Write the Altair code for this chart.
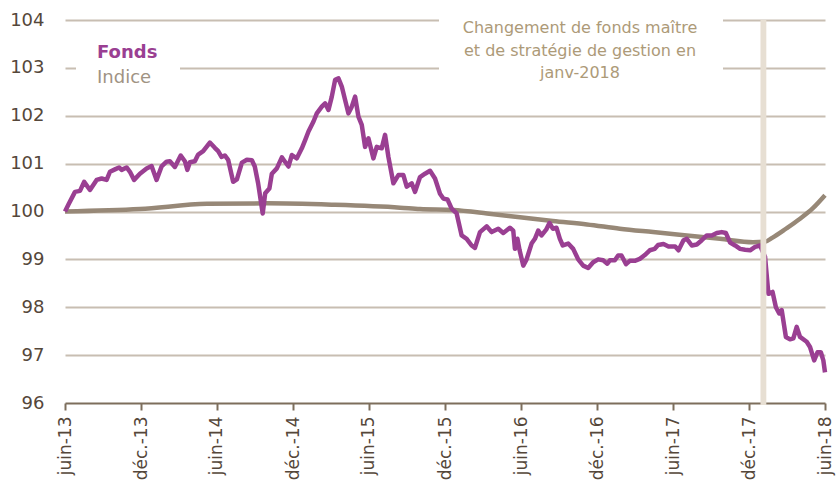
import altair as alt
import pandas as pd

# Weekly values of the fund (base 100 in June 2013)
FONDS_DATES = [
    "2013-06-01", "2013-06-09", "2013-06-25", "2013-07-07", "2013-07-17", "2013-07-31",
    "2013-08-16", "2013-08-28", "2013-09-09", "2013-09-17", "2013-09-29", "2013-10-09",
    "2013-10-15", "2013-10-27", "2013-11-04", "2013-11-14", "2013-11-28", "2013-12-14",
    "2013-12-26",
    "2014-01-07", "2014-01-19", "2014-01-31", "2014-02-08", "2014-02-20", "2014-03-06",
    "2014-03-16", "2014-03-22", "2014-03-28", "2014-04-09", "2014-04-17", "2014-04-29",
    "2014-05-15", "2014-05-27", "2014-06-04", "2014-06-12", "2014-06-20", "2014-06-28",
    "2014-07-10", "2014-07-19", "2014-07-31", "2014-08-12", "2014-08-24", "2014-08-31",
    "2014-09-08", "2014-09-19", "2014-09-25", "2014-10-05", "2014-10-11", "2014-10-23",
    "2014-11-04", "2014-11-09", "2014-11-20", "2014-11-28", "2014-12-10", "2014-12-22",
    "2014-12-30",
    "2015-01-07", "2015-01-19", "2015-01-27", "2015-02-08", "2015-02-16", "2015-02-24",
    "2015-03-04", "2015-03-12", "2015-03-20", "2015-03-28", "2015-04-05", "2015-04-13",
    "2015-04-21", "2015-04-29", "2015-05-07", "2015-05-15", "2015-05-23", "2015-05-31",
    "2015-06-12", "2015-06-20", "2015-07-02", "2015-07-10", "2015-07-18", "2015-07-30",
    "2015-08-11", "2015-08-23", "2015-08-31", "2015-09-12", "2015-09-20", "2015-10-02",
    "2015-10-14", "2015-10-26", "2015-11-07", "2015-11-19", "2015-11-27", "2015-12-07",
    "2015-12-17", "2015-12-29",
    "2016-01-10", "2016-01-22", "2016-02-03", "2016-02-11", "2016-02-23", "2016-03-10",
    "2016-03-22", "2016-04-07", "2016-04-19", "2016-05-05", "2016-05-13", "2016-05-17",
    "2016-05-23", "2016-05-28", "2016-06-06", "2016-06-14", "2016-06-26", "2016-07-04",
    "2016-07-12", "2016-07-20", "2016-07-31", "2016-08-08", "2016-08-16", "2016-08-25",
    "2016-09-02", "2016-09-09", "2016-09-22", "2016-10-04", "2016-10-16", "2016-10-28",
    "2016-11-09", "2016-11-21", "2016-12-03", "2016-12-15", "2016-12-25", "2016-12-31",
    "2017-01-12", "2017-01-20", "2017-01-28", "2017-02-08", "2017-02-17", "2017-03-01",
    "2017-03-13", "2017-03-25", "2017-04-06", "2017-04-18", "2017-04-26", "2017-05-09",
    "2017-05-21", "2017-06-06", "2017-06-14", "2017-06-26", "2017-07-04", "2017-07-16",
    "2017-07-28", "2017-08-09", "2017-08-21", "2017-09-02", "2017-09-14", "2017-09-26",
    "2017-10-06", "2017-10-16", "2017-10-28", "2017-11-09", "2017-11-21", "2017-12-03",
    "2017-12-15", "2017-12-27",
    "2018-01-08", "2018-01-16", "2018-01-26", "2018-02-03", "2018-02-11", "2018-02-17",
    "2018-02-27", "2018-03-09", "2018-03-17", "2018-03-25", "2018-04-02", "2018-04-18",
    "2018-04-26", "2018-05-06", "2018-05-14", "2018-05-22", "2018-05-28", "2018-06-01",
]
FONDS_VALUES = [
    100.00, 100.14, 100.41, 100.43, 100.62, 100.45, 100.66, 100.69, 100.66, 100.83,
    100.88, 100.92, 100.87, 100.92, 100.83, 100.66, 100.79, 100.90, 100.95,
    100.66, 100.94, 101.04, 101.05, 100.93, 101.17, 101.05, 100.87, 101.03, 101.05,
    101.19, 101.26, 101.44, 101.33, 101.26, 101.14, 101.17, 101.08, 100.62, 100.67,
    101.02, 101.08, 101.07, 100.94, 100.59, 99.96, 100.38, 100.48, 100.79, 100.90,
    101.13, 101.07, 100.94, 101.18, 101.11, 101.32, 101.49,
    101.67, 101.88, 102.05, 102.19, 102.26, 102.12, 102.40, 102.75, 102.78, 102.61,
    102.33, 102.05, 102.19, 102.40, 101.98, 101.81, 101.35, 101.53, 101.11, 101.35,
    101.32, 101.60, 101.14, 100.59, 100.76, 100.76, 100.52, 100.59, 100.41, 100.72,
    100.79, 100.85, 100.69, 100.37, 100.27, 100.25, 100.06, 99.96,
    99.50, 99.43, 99.29, 99.24, 99.57, 99.69, 99.57, 99.64, 99.55, 99.66,
    99.60, 99.22, 99.43, 99.20, 98.87, 99.00, 99.33, 99.43, 99.60, 99.50,
    99.62, 99.76, 99.64, 99.66, 99.43, 99.29, 99.33, 99.22, 99.00, 98.87,
    98.82, 98.94, 99.00, 98.98, 98.91, 98.98,
    98.98, 99.08, 99.08, 98.90, 98.97, 98.97, 99.01, 99.09, 99.19, 99.22,
    99.30, 99.32, 99.27, 99.27, 99.19, 99.40, 99.43, 99.29, 99.31, 99.40,
    99.50, 99.50, 99.55, 99.57, 99.55, 99.35, 99.29, 99.22, 99.20, 99.19,
    99.26, 99.29,
    99.05, 98.28, 98.32, 98.00, 97.87, 97.94, 97.38, 97.33, 97.35, 97.59,
    97.38, 97.28, 97.17, 96.89, 97.06, 97.06, 96.89, 96.64,
]

# Benchmark index
INDICE_DATES = [
    "2013-06-01", "2013-11-28", "2014-05-08", "2014-09-29", "2015-03-07", "2015-08-15",
    "2015-10-02", "2015-12-20", "2016-03-11", "2016-05-29", "2016-08-16", "2016-11-06",
    "2017-01-24", "2017-04-14", "2017-07-04", "2017-09-22", "2017-12-10", "2018-01-08",
    "2018-01-25", "2018-02-27", "2018-04-02", "2018-05-03", "2018-06-01",
]
INDICE_VALUES = [
    100.00, 100.05, 100.16, 100.17, 100.14, 100.08,
    100.05, 100.03, 99.96, 99.88, 99.80, 99.73,
    99.64, 99.57, 99.50, 99.43, 99.36, 99.37,
    99.45, 99.64, 99.85, 100.07, 100.34,
]

TICK_DATES = [
    "2013-06-01", "2013-12-01", "2014-06-01", "2014-12-01", "2015-06-01", "2015-12-01",
    "2016-06-01", "2016-12-01", "2017-06-01", "2017-12-01", "2018-06-01",
]
TICK_LABELS = [
    "juin-13", "déc.-13", "juin-14", "déc.-14", "juin-15", "déc.-15",
    "juin-16", "déc.-16", "juin-17", "déc.-17", "juin-18",
]
Y_TICKS = [96, 97, 98, 99, 100, 101, 102, 103, 104]

# Change of master fund / management strategy
EVENT_START = ["2017-12-28"]
EVENT_END = ["2018-01-11"]
NOTE_LINES = ["Changement de fonds maître", "et de stratégie de gestion en", "janv-2018"]
LEGEND_NAMES = ["Fonds", "Indice"]

assert len(FONDS_DATES) == len(FONDS_VALUES)
assert len(INDICE_DATES) == len(INDICE_VALUES)

FONT = "DejaVu Sans"
FONDS_COLOR = "#9a3f92"
INDICE_COLOR = "#978877"
INDICE_TEXT = "#a09383"
GRID_COLOR = "#c8beb2"
AXIS_COLOR = "#7d6e5c"
LABEL_COLOR = "#55473a"
NOTE_COLOR = "#ad9a78"
BAND_COLOR = "#e7dfd3"

W, H = 760, 383

fonds = pd.DataFrame({"date": FONDS_DATES, "valeur": FONDS_VALUES})
indice = pd.DataFrame({"date": INDICE_DATES, "valeur": INDICE_VALUES})
event = pd.DataFrame({"debut": EVENT_START, "fin": EVENT_END})


def utc_dt(s):
    y, m, d = (int(p) for p in s.split("-"))
    return alt.DateTime(year=y, month=m, date=d, utc=True)


x_scale = alt.Scale(type="utc", domain=[utc_dt(TICK_DATES[0]), utc_dt(TICK_DATES[-1])])
y_scale = alt.Scale(domain=[Y_TICKS[0], Y_TICKS[-1]], nice=False, zero=False)

label_expr = "''"
for d, lab in reversed(list(zip(TICK_DATES, TICK_LABELS))):
    label_expr = f"utcFormat(datum.value, '%Y-%m') === '{d[:7]}' ? '{lab}' : ({label_expr})"

x_axis = alt.Axis(
    values=[utc_dt(d) for d in TICK_DATES],
    labelExpr=label_expr,
    labelAngle=270,
    labelOverlap=False,
    labelFlush=False,
    labelPadding=6,
    labelFontSize=17,
    tickSize=7,
    tickWidth=2,
    tickColor=AXIS_COLOR,
    domainColor=AXIS_COLOR,
    domainWidth=2,
    grid=False,
    title=None,
)
y_axis = alt.Axis(
    values=Y_TICKS,
    grid=True,
    gridColor=GRID_COLOR,
    gridWidth=2,
    gridOpacity=alt.condition(f"datum.value === {Y_TICKS[0]}", alt.value(0), alt.value(1)),
    domain=False,
    ticks=False,
    labelPadding=21,
    labelFontSize=18,
    title=None,
)

indice_line = alt.Chart(indice).mark_line(
    color=INDICE_COLOR, strokeWidth=4.5, interpolate="monotone"
).encode(
    x=alt.X("date:T", scale=x_scale, axis=x_axis),
    y=alt.Y("valeur:Q", scale=y_scale, axis=y_axis),
)

fonds_line = alt.Chart(fonds).mark_line(
    color=FONDS_COLOR, strokeWidth=4.5, strokeJoin="round"
).encode(
    x=alt.X("date:T", scale=x_scale),
    y=alt.Y("valeur:Q", scale=y_scale),
)

band = alt.Chart(event).mark_rect(color=BAND_COLOR).encode(
    x=alt.X("debut:T", scale=x_scale),
    x2="fin:T",
    y=alt.value(0),
    y2=alt.value(H + 2),
)

# Legend block
legend_bg = alt.Chart(pd.DataFrame({"k": [0]})).mark_rect(color="white").encode(
    x=alt.value(11), x2=alt.value(115), y=alt.value(14), y2=alt.value(70)
)
legend_fonds = alt.Chart(pd.DataFrame({"t": [LEGEND_NAMES[0]]})).mark_text(
    font=FONT, fontSize=18, fontWeight="bold", color=FONDS_COLOR, align="left", baseline="alphabetic"
).encode(text="t:N", x=alt.value(32), y=alt.value(38))
legend_indice = alt.Chart(pd.DataFrame({"t": [LEGEND_NAMES[1]]})).mark_text(
    font=FONT, fontSize=18, color=INDICE_TEXT, align="left", baseline="alphabetic"
).encode(text="t:N", x=alt.value(32), y=alt.value(63))

# Annotation about the strategy change
note_bg = alt.Chart(pd.DataFrame({"k": [0]})).mark_rect(color="white").encode(
    x=alt.value(374), x2=alt.value(658), y=alt.value(-6), y2=alt.value(66)
)
note = alt.Chart(pd.DataFrame({"t": ["\n".join(NOTE_LINES)]})).mark_text(
    font=FONT, fontSize=16, color=NOTE_COLOR, align="center", baseline="alphabetic",
    lineBreak="\n", lineHeight=22.5,
).encode(text="t:N", x=alt.value(515), y=alt.value(13))

chart = alt.layer(
    indice_line, fonds_line, band, legend_bg, legend_fonds, legend_indice, note_bg, note
).properties(
    width=W,
    height=H,
    autosize=alt.AutoSizeParams(type="none"),
    padding={"left": 65, "top": 20, "right": 12, "bottom": 80},
    background="white",
).configure_view(
    stroke=None
).configure_axis(
    labelFont=FONT,
    labelColor=LABEL_COLOR,
)

chart.save("out.html", embed_options={"renderer": "svg", "actions": False})
